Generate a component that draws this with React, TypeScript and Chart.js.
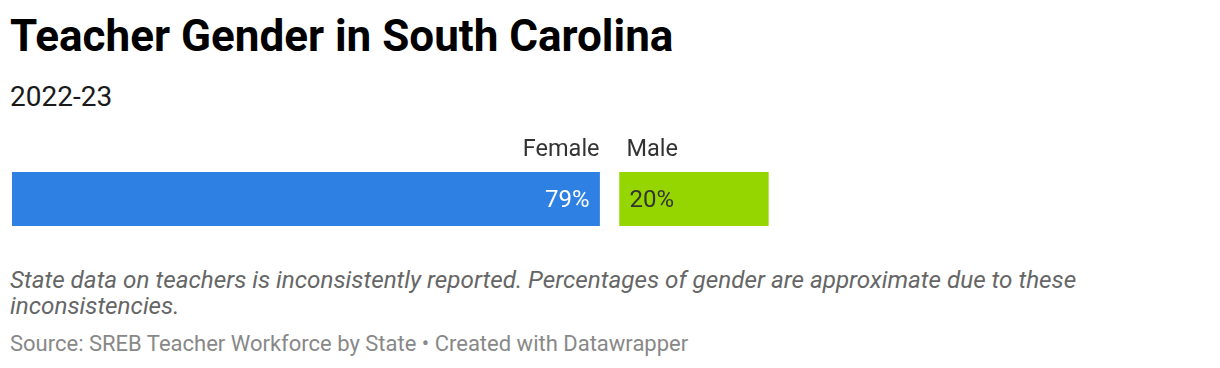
import React, { useEffect, useRef } from "react";
import { Chart, registerables } from "chart.js";

Chart.register(...registerables);

const categories = ["Female", "Male"];
const values = [79, 20];
const valueLabels = ["79%", "20%"];
const colors = ["#2f80e3", "#96d600"];
const valueColors = ["#ffffff", "#333333"];

const GAP_UNITS = 2.69; // visual gap between segments in scale units
const X_MAX = 160;

const FONT = "Roboto, 'Noto Sans', sans-serif";

function buildRanges(): [number, number][] {
  const out: [number, number][] = [];
  let start = 0;
  values.forEach((v) => {
    out.push([start, start + v]);
    start = start + v + GAP_UNITS;
  });
  return out;
}

const labelPlugin = {
  id: "segLabels",
  afterDatasetsDraw(chart: any) {
    const ctx = chart.ctx;
    ctx.save();
    chart.data.datasets.forEach((ds: any, i: number) => {
      const meta = chart.getDatasetMeta(i);
      const el: any = meta.data[0];
      if (!el) return;
      const left = Math.min(el.x, el.base);
      const right = Math.max(el.x, el.base);
      const top = el.y - el.height / 2;
      const isLast = i === chart.data.datasets.length - 1;
      ctx.font = `400 23.5px ${FONT}`;
      ctx.fillStyle = "#333333";
      ctx.textBaseline = "alphabetic";
      if (isLast) {
        ctx.textAlign = "left";
        ctx.fillText(categories[i], left + 7, top - 16);
      } else {
        ctx.textAlign = "right";
        ctx.fillText(categories[i], right, top - 16);
      }
      ctx.font = `400 24px ${FONT}`;
      ctx.fillStyle = valueColors[i];
      if (isLast) {
        ctx.textAlign = "left";
        ctx.fillText(valueLabels[i], left + 10, el.y + 8);
      } else {
        ctx.textAlign = "right";
        ctx.fillText(valueLabels[i], right - 10, el.y + 8);
      }
    });
    ctx.restore();
  },
};

function BarChart() {
  const ref = useRef<HTMLCanvasElement | null>(null);
  useEffect(() => {
    if (!ref.current) return;
    const ranges = buildRanges();
    const chart = new Chart(ref.current, {
      type: "bar",
      data: {
        labels: [""],
        datasets: categories.map((c, i) => ({
          label: c,
          data: [ranges[i]] as any,
          backgroundColor: colors[i],
          borderWidth: 0,
          barThickness: 54,
          grouped: false,
        })) as any,
      },
      options: {
        indexAxis: "y",
        animation: false,
        responsive: false,
        maintainAspectRatio: false,
        layout: { padding: { left: 4, right: 0, top: 42, bottom: 14 } },
        plugins: {
          legend: { display: false },
          tooltip: { enabled: false },
          title: { display: false },
        },
        scales: {
          x: { display: false, min: 0, max: X_MAX },
          y: { display: false },
        },
      },
      plugins: [labelPlugin],
    });
    return () => chart.destroy();
  }, []);
  return (
    <canvas
      ref={ref}
      width={1194}
      height={110}
      style={{ position: "absolute", left: 0, top: 122, width: 1194, height: 110 }}
    />
  );
}

export default function App() {
  return (
    <div
      style={{
        position: "relative",
        width: 1204,
        height: 352,
        fontFamily: FONT,
        overflow: "hidden",
      }}
    >
      <div
        style={{
          position: "absolute",
          left: 2,
          top: 2,
          fontSize: 44,
          fontWeight: 700,
          color: "#000",
          lineHeight: "52px",
          whiteSpace: "nowrap",
        }}
      >
        Teacher Gender in South Carolina
      </div>
      <div
        style={{
          position: "absolute",
          left: 2,
          top: 72,
          fontSize: 28,
          color: "#1a1a1a",
          lineHeight: "34px",
        }}
      >
        2022-23
      </div>
      <BarChart />
      <div
        style={{
          position: "absolute",
          left: 2,
          top: 259,
          width: 1150,
          fontSize: 24.25,
          fontStyle: "italic",
          color: "#666",
          lineHeight: "26px",
        }}
      >
        State data on teachers is inconsistently reported. Percentages of gender are approximate due to these inconsistencies.
      </div>
      <div
        style={{
          position: "absolute",
          left: 2,
          top: 323,
          fontSize: 22,
          color: "#888",
          lineHeight: "26px",
          whiteSpace: "nowrap",
        }}
      >
        Source: SREB Teacher Workforce by State • Created with Datawrapper
      </div>
    </div>
  );
}
